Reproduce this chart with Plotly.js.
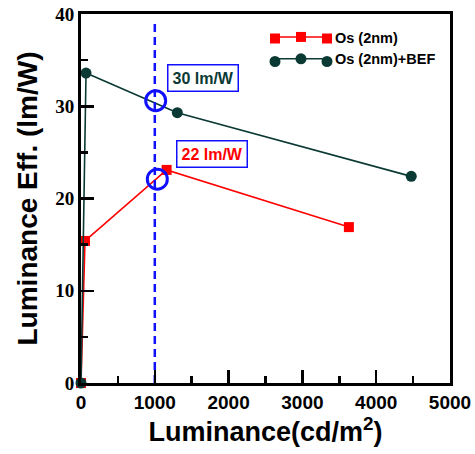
<!DOCTYPE html>
<html><head><meta charset="utf-8">
<script src="https://cdn.plot.ly/plotly-3.0.1.min.js"></script>
<style>body{margin:0;background:#fff}#c{width:475px;height:454px}</style>
</head><body><div id="c"></div>
<script>
const osX = [0, 54, 1160, 3630];
const osY = [0, 15.4, 23.1, 16.9];
const befX = [0, 68, 1305, 4475];
const befY = [0, 33.6, 29.3, 22.4];
const refLineX = [1000, 1000];
const refLineY = [0, 39.2];
const circleX = [1012, 1034];
const circleY = [30.6, 22.1];
const labels = ['30 lm/W', '22 lm/W'];
const labelX = [1655, 1780];
const labelY = [33.1, 24.8];
const xTickVals = [0, 1000, 2000, 3000, 4000, 5000];
const xTickText = ['0', '1000', '2000', '3000', '4000', '5000'];
const yTickVals = [0, 10, 20, 30, 40];
const yTickText = ['0', '10', '20', '30', '40'];
const red = '#ff0000', teal = '#0b3a35', blue = '#1010ff';
const bold = {family: 'Liberation Sans, Arial, sans-serif', weight: 'bold'};

const traces = [
  {x: osX, y: osY, name: 'Os (2nm)', mode: 'lines+markers', cliponaxis: false,
   line: {color: red, width: 1.6}, marker: {symbol: 'square', size: 10, color: red}},
  {x: befX, y: befY, name: 'Os (2nm)+BEF', mode: 'lines+markers', cliponaxis: false,
   line: {color: teal, width: 1.6}, marker: {symbol: 'circle', size: 11, color: teal}},
  {x: refLineX, y: refLineY, mode: 'lines', showlegend: false, hoverinfo: 'skip',
   line: {color: blue, width: 2.5, dash: '8px,5px'}},
  {x: circleX, y: circleY, mode: 'markers', showlegend: false, cliponaxis: false,
   marker: {symbol: 'circle-open', size: 20, color: blue, line: {width: 3, color: blue}}}
];

const annColors = [teal, red];
const annotations = labels.map((t, i) => ({
  x: labelX[i], y: labelY[i], xref: 'x', yref: 'y', text: t, showarrow: false,
  font: Object.assign({size: 16, color: annColors[i]}, bold),
  bgcolor: '#fff', bordercolor: blue, borderwidth: 1.5, borderpad: 4
}));

// extra legend-symbol markers (decoration: three markers per legend line)
function px2paperX(p) { return (p - 81) / 369; }
function px2paperY(p) { return (383 - p) / 369; }
const legendDeco = [];
[[275, 38.5], [327, 38.5]].forEach(([px, py]) => legendDeco.push({
  type: 'rect', xref: 'paper', yref: 'paper', layer: 'above',
  x0: px2paperX(px - 5), x1: px2paperX(px + 5), y0: px2paperY(py + 5), y1: px2paperY(py - 5),
  fillcolor: red, line: {width: 0}}));
[[275, 61.5], [327, 61.5]].forEach(([px, py]) => legendDeco.push({
  type: 'circle', xref: 'paper', yref: 'paper', layer: 'above',
  x0: px2paperX(px - 5.5), x1: px2paperX(px + 5.5), y0: px2paperY(py + 5.5), y1: px2paperY(py - 5.5),
  fillcolor: teal, line: {width: 0}}));

const layout = {
  width: 475, height: 454,
  margin: {l: 81, r: 25, t: 14, b: 71},
  paper_bgcolor: '#fff', plot_bgcolor: '#fff',
  showlegend: true,
  legend: {x: 0.504, y: 0.981, xanchor: 'left', yanchor: 'top', bgcolor: 'rgba(0,0,0,0)',
    itemwidth: 58, tracegroupgap: 0,
    font: Object.assign({size: 14.5, color: '#000'}, bold)},
  shapes: legendDeco,
  xaxis: {range: [0, 5000], tickmode: 'array', tickvals: xTickVals, ticktext: xTickText.map(t => '<b>' + t + '</b>'),
    ticks: 'inside', ticklen: 13, tickwidth: 2.5,
    tickcolor: '#000', showgrid: false, zeroline: false, showline: true, linewidth: 3, linecolor: '#000', mirror: true,
    tickfont: {family: 'Liberation Sans, Arial, sans-serif', size: 19, color: '#000'},
    minor: {dtick: 500, ticks: 'inside', ticklen: 7, tickwidth: 2.5, tickcolor: '#000', showgrid: false},
    title: {text: '<b>Luminance(cd/m<sup>2</sup>)</b>', font: {family: 'Liberation Sans, Arial, sans-serif', size: 27, color: '#000'}, standoff: 10}},
  yaxis: {range: [0, 40], tickmode: 'array', tickvals: yTickVals, ticktext: yTickText.map(t => '<b>' + t + '</b>'),
    ticks: 'inside', ticklen: 13, tickwidth: 2.5,
    tickcolor: '#000', showgrid: false, zeroline: false, showline: true, linewidth: 3, linecolor: '#000', mirror: true,
    tickfont: {family: 'Liberation Serif, Times New Roman, serif', size: 19, color: '#000'},
    minor: {dtick: 5, ticks: 'inside', ticklen: 7, tickwidth: 2.5, tickcolor: '#000', showgrid: false},
    title: {text: '<b>Luminance Eff. (lm/W)</b>', font: {family: 'Liberation Sans, Arial, sans-serif', size: 28, color: '#000'}, standoff: 10}},
  annotations: annotations
};
Plotly.newPlot('c', traces, layout, {displayModeBar: false, staticPlot: true});
</script></body></html>
